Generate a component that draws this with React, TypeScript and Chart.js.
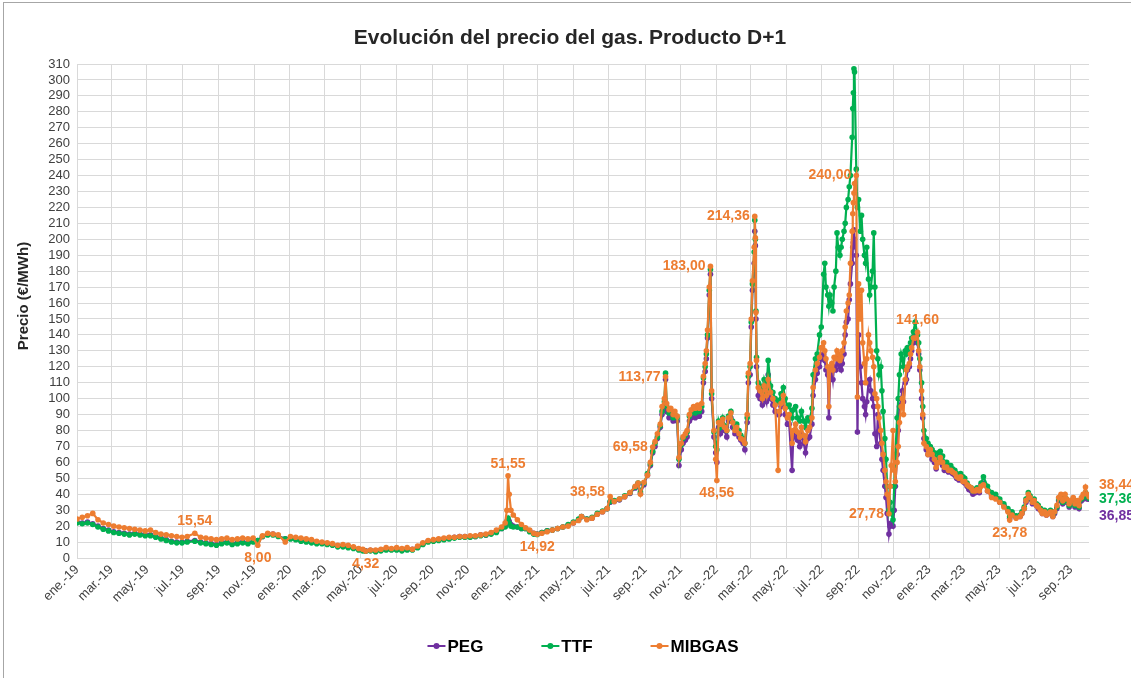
import { useEffect, useRef } from "react";
import { Chart, registerables } from "chart.js";

Chart.register(...registerables);

const FONT = "'Liberation Sans', Arial, sans-serif";

// ---- data -------------------------------------------------------------
const dates: string[] = [
  // 2019
  "2019-01-01","2019-01-10","2019-01-19","2019-01-28","2019-02-06","2019-02-15","2019-02-24","2019-03-05","2019-03-14","2019-03-23",
  "2019-04-01","2019-04-10","2019-04-19","2019-04-28","2019-05-07","2019-05-16","2019-05-25","2019-06-03","2019-06-12","2019-06-21",
  "2019-06-30","2019-07-09","2019-07-22","2019-08-01","2019-08-10","2019-08-19","2019-08-28","2019-09-06","2019-09-15","2019-09-24",
  "2019-10-03","2019-10-12","2019-10-21","2019-10-30","2019-11-07","2019-11-15","2019-11-24","2019-12-03","2019-12-12","2019-12-24",
  // 2020
  "2020-01-02","2020-01-11","2020-01-20","2020-01-29","2020-02-07","2020-02-16","2020-02-25","2020-03-05","2020-03-14","2020-03-23",
  "2020-04-01","2020-04-10","2020-04-19","2020-04-28","2020-05-05","2020-05-10","2020-05-18","2020-05-27","2020-06-05","2020-06-14",
  "2020-06-23","2020-07-02","2020-07-11","2020-07-20","2020-07-29","2020-08-07","2020-08-16","2020-08-25","2020-09-03","2020-09-12",
  "2020-09-21","2020-09-30","2020-10-09","2020-10-18","2020-10-27","2020-11-05","2020-11-14","2020-11-23","2020-12-02","2020-12-11",
  "2020-12-20","2020-12-29",
  // 2021
  "2021-01-04","2021-01-07","2021-01-09","2021-01-11","2021-01-14","2021-01-18","2021-01-25","2021-02-01","2021-02-08","2021-02-15",
  "2021-02-22","2021-02-28","2021-03-08","2021-03-17","2021-03-26","2021-04-04","2021-04-13","2021-04-22","2021-05-01","2021-05-10",
  "2021-05-15","2021-05-24","2021-06-02","2021-06-11","2021-06-20","2021-06-28","2021-07-03","2021-07-10","2021-07-19","2021-07-28",
  "2021-08-06","2021-08-15","2021-08-20","2021-08-24","2021-08-30","2021-09-05","2021-09-10","2021-09-14","2021-09-18","2021-09-22",
  "2021-09-27","2021-09-30","2021-10-04","2021-10-06","2021-10-08","2021-10-12","2021-10-15","2021-10-19","2021-10-22","2021-10-26",
  "2021-10-29","2021-11-02","2021-11-05","2021-11-09","2021-11-12","2021-11-16","2021-11-19","2021-11-23","2021-11-26","2021-11-30",
  "2021-12-03","2021-12-07","2021-12-10","2021-12-13","2021-12-15","2021-12-17","2021-12-20","2021-12-22","2021-12-24","2021-12-28",
  "2021-12-31",
  // 2022
  "2022-01-02","2022-01-05","2022-01-08","2022-01-12","2022-01-15","2022-01-19","2022-01-22","2022-01-26","2022-01-29","2022-02-02",
  "2022-02-05","2022-02-09","2022-02-12","2022-02-16","2022-02-19","2022-02-23","2022-02-25","2022-02-28","2022-03-02","2022-03-04",
  "2022-03-07","2022-03-08","2022-03-09","2022-03-10","2022-03-11","2022-03-14","2022-03-17","2022-03-21","2022-03-24","2022-03-28",
  "2022-03-31","2022-04-04","2022-04-08","2022-04-12","2022-04-17","2022-04-19","2022-04-22","2022-04-26","2022-04-29","2022-05-03",
  "2022-05-06","2022-05-11","2022-05-13","2022-05-17","2022-05-20","2022-05-24","2022-05-27","2022-05-31","2022-06-03","2022-06-07",
  "2022-06-10","2022-06-14","2022-06-16","2022-06-20","2022-06-23","2022-06-27","2022-06-30","2022-07-04","2022-07-06","2022-07-08",
  "2022-07-11","2022-07-13","2022-07-15","2022-07-18","2022-07-20","2022-07-22","2022-07-25","2022-07-27","2022-07-29","2022-08-01",
  "2022-08-03","2022-08-05","2022-08-08","2022-08-10","2022-08-12","2022-08-15","2022-08-17","2022-08-19","2022-08-22","2022-08-23",
  "2022-08-24","2022-08-25","2022-08-26","2022-08-29","2022-08-31","2022-09-02","2022-09-05","2022-09-07","2022-09-09","2022-09-12",
  "2022-09-14","2022-09-16","2022-09-19","2022-09-21","2022-09-23","2022-09-26","2022-09-28","2022-09-30","2022-10-03","2022-10-05",
  "2022-10-07","2022-10-10","2022-10-12","2022-10-14","2022-10-17","2022-10-19","2022-10-21","2022-10-24","2022-10-26","2022-10-28",
  "2022-10-31","2022-11-02","2022-11-04","2022-11-07","2022-11-09","2022-11-11","2022-11-14","2022-11-16","2022-11-18","2022-11-21",
  "2022-11-23","2022-11-25","2022-11-28","2022-11-30","2022-12-02","2022-12-05","2022-12-08","2022-12-12","2022-12-14","2022-12-16",
  "2022-12-19","2022-12-21","2022-12-23","2022-12-27","2022-12-30",
  // 2023
  "2023-01-03","2023-01-06","2023-01-10","2023-01-13","2023-01-17","2023-01-20","2023-01-24","2023-01-27","2023-01-31","2023-02-03",
  "2023-02-07","2023-02-10","2023-02-14","2023-02-17","2023-02-21","2023-02-24","2023-02-28","2023-03-03","2023-03-07","2023-03-10",
  "2023-03-14","2023-03-17","2023-03-21","2023-03-24","2023-03-28","2023-03-31","2023-04-04","2023-04-11","2023-04-18","2023-04-25",
  "2023-05-02","2023-05-09","2023-05-16","2023-05-19","2023-05-23","2023-05-30","2023-06-06","2023-06-09","2023-06-13","2023-06-16",
  "2023-06-20","2023-06-23","2023-06-27","2023-06-30","2023-07-04","2023-07-07","2023-07-11","2023-07-14","2023-07-18","2023-07-21",
  "2023-07-25","2023-07-28","2023-08-01","2023-08-04","2023-08-08","2023-08-11","2023-08-15","2023-08-18","2023-08-22","2023-08-25",
  "2023-08-29","2023-09-01","2023-09-05","2023-09-08","2023-09-12","2023-09-15","2023-09-19","2023-09-22","2023-09-26","2023-09-29",
  "2023-10-02",
];

const peg: number[] = [
  // 2019
  22.5, 22.0, 22.5, 21.5, 20.0, 18.5, 17.5, 16.5, 16.0, 15.5,
  15.0, 15.5, 15.0, 14.5, 14.5, 13.5, 12.5, 11.5, 10.5, 10.0,
  10.0, 10.5, 11.0, 10.0, 9.5, 9.0, 8.5, 9.5, 10.0, 9.0,
  9.5, 10.0, 9.5, 10.5, 11.0, 13.5, 15.0, 15.0, 14.0, 12.0,
  // 2020
  12.5, 12.0, 11.0, 10.5, 10.0, 9.5, 9.5, 9.0, 8.5, 7.5,
  7.5, 7.0, 6.5, 5.5, 5.0, 4.5, 4.8, 4.5, 5.0, 5.5,
  5.5, 5.5, 5.0, 5.5, 5.5, 7.0, 9.0, 10.5, 11.0, 11.5,
  12.0, 12.5, 13.0, 13.5, 13.5, 13.5, 13.5, 14.5, 14.5, 15.5,
  16.5, 18.5,
  // 2021
  20.0, 22.0, 24.0, 23.0, 21.0, 20.0, 19.5, 18.5, 18.5, 17.0,
  15.5, 15.0, 16.0, 17.0, 17.5, 18.5, 19.5, 20.5, 22.0, 24.0,
  26.0, 24.5, 25.0, 27.5, 29.0, 31.0, 35.0, 35.5, 36.5, 38.5,
  40.5, 44.0, 46.5, 40.5, 46.0, 52.0, 58.0, 66.0, 70.0, 75.0,
  82.0, 90.0, 95.0, 112.0, 92.0, 88.0, 90.0, 86.0, 88.0, 86.0,
  58.0, 68.0, 72.0, 74.0, 76.0, 86.0, 88.0, 90.0, 88.0, 91.0,
  89.0, 92.0, 110.0, 117.0, 125.0, 138.0, 165.0, 178.0, 100.0, 76.0,
  66.0,
  // 2022
  60.0, 82.0, 78.0, 84.0, 80.0, 76.0, 86.0, 88.0, 82.0, 78.0,
  80.0, 76.0, 74.0, 72.0, 68.0, 85.0, 110.0, 115.0, 145.0, 168.0,
  185.0, 205.0, 196.0, 150.0, 120.0, 102.0, 100.0, 96.0, 104.0, 98.0,
  115.0, 100.0, 96.0, 92.0, 90.0, 90.0, 95.0, 99.0, 90.0, 84.0,
  84.0, 55.0, 76.0, 80.0, 74.0, 70.0, 78.0, 72.0, 66.0, 75.0,
  76.0, 84.0, 102.0, 112.0, 116.0, 120.0, 125.0, 128.0, 124.0, 118.0,
  115.0, 88.0, 112.0, 118.0, 112.0, 120.0, 118.0, 125.0, 122.0, 120.0,
  118.0, 122.0, 128.0, 140.0, 148.0, 150.0, 162.0, 172.0, 185.0, 195.0,
  198.0, 206.0, 200.0, 190.0, 79.0, 140.0, 120.0, 110.0, 100.0, 95.0,
  90.0, 98.0, 110.0, 112.0, 105.0, 100.0, 95.0, 78.0, 70.0, 90.0,
  80.0, 72.0, 62.0, 55.0, 45.0, 38.0, 28.0, 15.0, 20.0, 22.0,
  20.0, 30.0, 45.0, 65.0, 80.0, 95.0, 100.0, 105.0, 98.0, 110.0,
  112.0, 118.0, 120.0, 125.0, 130.0, 135.0, 140.0, 135.0, 128.0, 118.0,
  100.0, 88.0, 75.0, 68.0, 65.0,
  // 2023
  65.0, 62.0, 60.0, 56.0, 60.0, 62.0, 58.0, 55.0, 56.0, 54.0,
  55.0, 53.0, 52.0, 50.0, 49.0, 50.0, 48.0, 47.0, 45.0, 43.0,
  42.0, 40.0, 41.0, 42.0, 41.0, 46.0, 47.0, 42.0, 39.0, 38.0,
  35.0, 33.0, 30.0, 25.0, 28.0, 25.5, 26.0, 28.0, 31.0, 35.0,
  38.0, 37.0, 34.0, 35.0, 33.0, 31.0, 30.0, 28.0, 29.0, 27.0,
  28.0, 29.0, 26.0, 28.0, 31.0, 36.0, 38.0, 34.0, 37.0, 35.0,
  32.0, 34.0, 36.0, 32.0, 34.0, 31.0, 36.0, 37.0, 40.0, 37.0,
  36.85,
];

const ttf: number[] = [
  // 2019
  22.0, 21.5, 22.0, 21.0, 19.5, 18.0, 17.0, 16.0, 15.5, 15.0,
  14.5, 15.0, 14.5, 14.0, 14.0, 13.0, 12.0, 11.0, 10.0, 9.5,
  9.5, 10.0, 10.5, 9.5, 9.0, 8.5, 8.0, 9.0, 9.5, 8.5,
  9.0, 9.5, 9.0, 10.0, 11.0, 13.5, 14.5, 14.5, 13.5, 12.0,
  // 2020
  12.0, 11.5, 10.5, 10.0, 9.5, 9.0, 9.0, 8.5, 8.0, 7.0,
  7.0, 6.5, 6.0, 5.0, 4.5, 4.2, 4.5, 4.0, 4.5, 5.0,
  5.0, 5.0, 4.5, 5.0, 5.0, 6.5, 8.5, 10.0, 10.5, 11.0,
  11.5, 12.0, 12.5, 13.0, 13.0, 13.0, 13.5, 14.0, 14.5, 15.0,
  16.0, 18.5,
  // 2021
  19.5, 23.0, 25.0, 22.0, 20.0, 19.5, 19.5, 18.5, 18.5, 16.5,
  15.0, 14.8, 16.0, 17.0, 17.5, 18.5, 19.5, 21.0, 22.5, 24.5,
  26.0, 24.5, 25.5, 28.0, 29.5, 31.0, 35.5, 36.0, 37.0, 39.0,
  41.0, 44.5, 47.0, 41.5, 47.0, 53.0, 59.0, 67.0, 72.0, 76.0,
  83.0, 92.0, 98.0, 116.0, 95.0, 91.0, 92.0, 88.0, 90.0, 88.0,
  62.0, 71.0, 75.0, 77.0, 79.0, 89.0, 91.0, 93.0, 91.0, 94.0,
  92.0, 95.0, 113.0, 120.0, 128.0, 140.0, 168.0, 181.0, 103.0, 79.0,
  70.0,
  // 2022
  68.0, 86.0, 82.0, 88.0, 83.0, 80.0, 89.0, 92.0, 86.0, 82.0,
  84.0, 80.0, 77.0, 75.0, 72.0, 88.0, 114.0, 120.0, 148.0, 172.0,
  192.0, 212.0, 200.0, 155.0, 126.0, 110.0, 108.0, 104.0, 112.0, 106.0,
  124.0, 108.0, 104.0, 100.0, 98.0, 99.0, 103.0, 107.0, 100.0, 95.0,
  96.0, 88.0, 93.0, 95.0, 88.0, 86.0, 92.0, 86.0, 82.0, 88.0,
  86.0, 94.0, 115.0, 125.0, 128.0, 140.0, 145.0, 178.0, 185.0, 170.0,
  165.0, 158.0, 165.0, 160.0, 155.0, 170.0, 180.0, 204.0, 195.0, 190.0,
  195.0, 200.0, 205.0, 210.0, 220.0, 225.0, 233.0, 240.0, 264.0, 282.0,
  292.0, 307.0, 305.0, 244.0, 220.0, 225.0, 205.0, 215.0, 200.0, 190.0,
  185.0, 195.0, 175.0, 165.0, 170.0, 180.0, 204.0, 170.0, 130.0, 125.0,
  115.0, 120.0, 105.0, 92.0, 75.0, 62.0, 45.0, 30.0, 35.0, 28.0,
  24.0, 45.0, 65.0, 88.0, 100.0, 115.0, 128.0, 125.0, 120.0, 130.0,
  128.0, 132.0, 130.0, 135.0, 138.0, 142.0, 148.0, 140.0, 135.0, 125.0,
  110.0, 95.0, 80.0, 75.0, 72.0,
  // 2023
  70.0, 68.0, 66.0, 62.0, 66.0, 67.0, 64.0, 60.0, 60.0, 58.0,
  58.0, 56.0, 55.0, 53.0, 52.0, 53.0, 51.0, 50.0, 47.0, 45.0,
  44.0, 42.0, 43.0, 44.0, 43.0, 47.0, 51.0, 45.0, 41.0, 40.0,
  37.0, 34.0, 31.0, 26.0, 29.0, 26.5, 27.0, 29.0, 32.0, 37.0,
  41.0, 39.0, 36.0, 37.0, 34.0, 33.0, 31.0, 29.0, 30.0, 28.0,
  29.0, 30.0, 27.0, 29.0, 32.0, 37.0, 39.0, 35.0, 38.0, 36.0,
  33.0, 35.0, 37.0, 33.0, 35.0, 32.0, 37.0, 38.0, 41.0, 39.0,
  37.36,
];

const mibgas: number[] = [
  // 2019
  24.5, 25.5, 26.5, 28.0, 24.0, 22.0, 21.0, 20.0, 19.5, 19.0,
  18.5, 18.0, 17.5, 17.0, 17.5, 16.0, 15.0, 14.5, 14.0, 13.5,
  13.0, 13.5, 15.54, 13.0, 12.5, 12.0, 11.5, 12.0, 12.5, 11.5,
  12.0, 12.5, 12.0, 12.5, 8.0, 14.0, 15.5, 15.0, 14.5, 10.0,
  // 2020
  13.5, 13.0, 12.5, 12.0, 11.5, 10.5, 10.0, 9.5, 9.0, 8.0,
  8.5, 8.0, 7.0, 6.0, 5.5, 4.32, 5.0, 5.0, 5.5, 6.5,
  6.0, 6.5, 6.0, 6.5, 5.5, 7.5, 9.5, 11.0, 11.5, 12.0,
  12.5, 13.0, 13.0, 13.5, 13.5, 14.0, 14.0, 14.5, 15.0, 16.0,
  17.5, 19.5,
  // 2021
  22.0, 30.0, 51.55, 40.0, 30.0, 27.0, 24.0, 21.0, 19.0, 17.5,
  15.5, 14.92, 15.5, 16.5, 17.5, 18.5, 19.5, 20.0, 22.0, 23.5,
  26.0, 24.0, 25.0, 27.5, 29.0, 31.0, 38.58, 35.5, 37.0, 38.5,
  41.0, 45.0, 47.0, 40.0, 47.5, 52.0, 60.0, 69.58, 73.0, 78.0,
  84.0, 95.0, 100.0, 113.77, 97.0, 93.0, 94.0, 90.0, 92.0, 89.0,
  63.0, 72.0, 76.0, 78.0, 80.0, 90.0, 93.0, 95.0, 94.0, 96.0,
  94.0, 97.0, 114.0, 122.0, 130.0, 143.0, 170.0, 183.0, 105.0, 80.0,
  62.0,
  // 2022
  48.56, 85.0, 84.0, 87.0, 82.0, 80.0, 88.0, 91.0, 85.0, 80.0,
  82.0, 78.0, 75.0, 74.0, 72.0, 90.0, 116.0, 122.0, 150.0, 174.0,
  195.0, 214.36, 201.0, 154.0, 124.0, 107.0, 105.0, 100.0, 108.0, 102.0,
  112.0, 104.0, 100.0, 96.0, 55.0, 92.0, 97.0, 102.0, 94.0, 88.0,
  90.0, 72.0, 80.0, 84.0, 79.0, 76.0, 82.0, 77.0, 73.0, 80.0,
  82.0, 88.0, 107.0, 118.0, 122.0, 126.0, 132.0, 135.0, 130.0, 125.0,
  120.0, 95.0, 118.0, 122.0, 118.0, 126.0, 125.0, 130.0, 128.0, 124.0,
  126.0, 130.0, 135.0, 145.0, 155.0, 160.0, 165.0, 185.0, 205.0, 216.0,
  223.0, 229.0, 235.0, 240.0, 101.0, 172.0, 150.0, 168.0, 135.0, 122.0,
  110.0, 125.0, 140.0, 135.0, 130.0, 126.0, 120.0, 103.0, 100.0, 95.0,
  88.0, 80.0, 72.0, 65.0, 55.0, 48.0, 40.0, 27.78, 45.0, 58.0,
  80.0, 55.0, 48.0, 60.0, 70.0, 85.0, 95.0, 100.0, 90.0, 112.0,
  118.0, 120.0, 122.0, 128.0, 132.0, 138.0, 138.0, 141.6, 130.0, 120.0,
  105.0, 90.0, 72.0, 70.0, 65.0,
  // 2023
  68.0, 65.0, 62.0, 57.0, 60.0, 63.0, 60.0, 57.0, 57.0, 55.0,
  55.0, 54.0, 53.0, 51.0, 50.0, 51.0, 48.0, 48.0, 46.0, 45.0,
  44.0, 42.0, 42.0, 43.0, 42.0, 45.0, 46.0, 42.0, 38.0, 37.0,
  35.0, 32.0, 29.0, 23.78, 27.0, 25.0, 26.0, 28.0, 31.0, 36.0,
  40.0, 38.0, 35.0, 36.0, 33.0, 32.0, 30.0, 28.0, 29.0, 27.0,
  28.0, 29.0, 26.0, 29.0, 33.0, 38.0, 40.0, 36.0, 40.0, 37.0,
  34.0, 36.0, 38.0, 34.0, 36.0, 33.0, 38.0, 40.0, 44.5, 40.0,
  38.44,
];

const seriesNames = ["PEG", "TTF", "MIBGAS"];
const seriesColors = ["#7030A0", "#00B050", "#ED7D31"];
const chartTitle = "Evolución del precio del gas. Producto D+1";
const yAxisTitle = "Precio (€/MWh)";

const xTickDates = [
  "2019-01-01","2019-03-01","2019-05-01","2019-07-01","2019-09-01","2019-11-01",
  "2020-01-01","2020-03-01","2020-05-01","2020-07-01","2020-09-01","2020-11-01",
  "2021-01-01","2021-03-01","2021-05-01","2021-07-01","2021-09-01","2021-11-01",
  "2022-01-01","2022-03-01","2022-05-01","2022-07-01","2022-09-01","2022-11-01",
  "2023-01-01","2023-03-01","2023-05-01","2023-07-01","2023-09-01",
];
const xTickLabels = [
  "ene.-19","mar.-19","may.-19","jul.-19","sep.-19","nov.-19",
  "ene.-20","mar.-20","may.-20","jul.-20","sep.-20","nov.-20",
  "ene.-21","mar.-21","may.-21","jul.-21","sep.-21","nov.-21",
  "ene.-22","mar.-22","may.-22","jul.-22","sep.-22","nov.-22",
  "ene.-23","mar.-23","may.-23","jul.-23","sep.-23",
];

// data labels: series index, date, placement
const pointLabels = [
  { s: 2, date: "2019-07-22", place: "above", dy: 0 },
  { s: 2, date: "2019-11-07", place: "below", dy: 0 },
  { s: 2, date: "2020-05-10", place: "below", dy: 0 },
  { s: 2, date: "2021-01-09", place: "above", dy: 0 },
  { s: 2, date: "2021-02-28", place: "below", dy: 0 },
  { s: 2, date: "2021-07-03", place: "left", dy: -4 },
  { s: 2, date: "2021-09-14", place: "left", dy: 0 },
  { s: 2, date: "2021-10-06", place: "left", dy: 0 },
  { s: 2, date: "2021-12-22", place: "left", dy: 0 },
  { s: 2, date: "2022-01-02", place: "below", dy: 0 },
  { s: 2, date: "2022-03-08", place: "left", dy: 0 },
  { s: 2, date: "2022-08-29", place: "left", dy: 0 },
  { s: 2, date: "2022-10-24", place: "left", dy: 0 },
  { s: 2, date: "2022-12-12", place: "above", dy: 0 },
  { s: 2, date: "2023-05-19", place: "below", dy: 0 },
  { s: 2, date: "2023-10-02", place: "right", dy: -12 },
  { s: 1, date: "2023-10-02", place: "right", dy: 1 },
  { s: 0, date: "2023-10-02", place: "right", dy: 17 },
];

// ---- helpers ----------------------------------------------------------
const BASE = Date.UTC(2019, 0, 1);
const dayIndex = (s: string) => {
  const [Y, M, D] = s.split("-").map(Number);
  return (Date.UTC(Y, M - 1, D) - BASE) / 86400000;
};
const seriesValues = [peg, ttf, mibgas];
const fmt = (v: number) => v.toFixed(2).replace(".", ",");

const decorPlugin = {
  id: "decor",
  beforeDraw(chart: any) {
    const ctx = chart.ctx;
    ctx.save();
    ctx.strokeStyle = "#A6A6A6";
    ctx.lineWidth = 1;
    ctx.strokeRect(3.5, 2.5, 1400, 1000);
    // title
    ctx.font = `bold 21px ${FONT}`;
    ctx.fillStyle = "#262626";
    ctx.textAlign = "center";
    ctx.textBaseline = "middle";
    ctx.fillText(chartTitle, 570, 38);
    // y axis title
    ctx.translate(24, 296);
    ctx.rotate(-Math.PI / 2);
    ctx.font = `bold 15px ${FONT}`;
    ctx.fillText(yAxisTitle, 0, 0);
    ctx.restore();
  },
  afterDatasetsDraw(chart: any) {
    const { ctx, scales, chartArea } = chart;
    const xs = scales.x;
    const ys = scales.y;
    ctx.save();
    // point labels
    ctx.font = `bold 14px ${FONT}`;
    for (const l of pointLabels) {
      const i = dates.indexOf(l.date);
      const v = seriesValues[l.s][i];
      const px = xs.getPixelForValue(dayIndex(l.date));
      const py = ys.getPixelForValue(v);
      ctx.fillStyle = seriesColors[l.s];
      const t = fmt(v);
      if (l.place === "above") {
        ctx.textAlign = "center";
        ctx.textBaseline = "bottom";
        ctx.fillText(t, px, py - 5 + l.dy);
      } else if (l.place === "below") {
        ctx.textAlign = "center";
        ctx.textBaseline = "top";
        ctx.fillText(t, px, py + 6 + l.dy);
      } else if (l.place === "left") {
        ctx.textAlign = "right";
        ctx.textBaseline = "middle";
        ctx.fillText(t, px - 5, py + l.dy);
      } else {
        ctx.textAlign = "left";
        ctx.textBaseline = "middle";
        ctx.fillText(t, px + 10, py + l.dy);
      }
    }
    // legend
    ctx.font = `bold 17px ${FONT}`;
    const widths = seriesNames.map((n) => 20 + ctx.measureText(n).width);
    const gap = 58;
    const total = widths.reduce((a, b) => a + b, 0) + gap * (widths.length - 1);
    let lx = (chartArea.left + chartArea.right) / 2 - total / 2;
    const ly = 646;
    seriesNames.forEach((n, k) => {
      ctx.strokeStyle = seriesColors[k];
      ctx.fillStyle = seriesColors[k];
      ctx.lineWidth = 2;
      ctx.beginPath();
      ctx.moveTo(lx, ly);
      ctx.lineTo(lx + 18, ly);
      ctx.stroke();
      ctx.beginPath();
      ctx.arc(lx + 9, ly, 3, 0, Math.PI * 2);
      ctx.fill();
      ctx.fillStyle = "#000000";
      ctx.textAlign = "left";
      ctx.textBaseline = "middle";
      ctx.fillText(n, lx + 20, ly + 1);
      lx += widths[k] + gap;
    });
    ctx.restore();
  },
};

export default function App() {
  const ref = useRef<HTMLCanvasElement | null>(null);

  useEffect(() => {
    document.body.style.margin = "0";
    const canvas = ref.current;
    if (!canvas) return;
    const lastDay = dayIndex(dates[dates.length - 1]);
    const xTickDays = xTickDates.map(dayIndex);

    const datasets = seriesValues.map((vals, k) => ({
      label: seriesNames[k],
      data: dates.map((d, i) => ({ x: dayIndex(d), y: vals[i] })),
      borderColor: seriesColors[k],
      backgroundColor: seriesColors[k],
      borderWidth: 2.2,
      pointRadius: 2.8,
      pointBorderWidth: 0,
      pointHoverRadius: 0,
      tension: 0,
      order: 3 - k,
    }));

    const chart = new Chart(canvas, {
      type: "line",
      data: { datasets },
      plugins: [decorPlugin],
      options: {
        animation: false,
        responsive: false,
        devicePixelRatio: 1,
        events: [],
        layout: { padding: { top: 64, right: 42, bottom: 0, left: 0 } },
        plugins: {
          legend: { display: false },
          tooltip: { enabled: false },
          title: { display: false },
        },
        scales: {
          x: {
            type: "linear",
            min: 0,
            max: lastDay,
            afterBuildTicks: (scale: any) => {
              scale.ticks = xTickDays.map((v) => ({ value: v }));
            },
            afterFit: (scale: any) => {
              scale.height = 120;
            },
            ticks: {
              autoSkip: false,
              minRotation: 45,
              maxRotation: 45,
              padding: 4,
              color: "#404040",
              font: { family: FONT, size: 13 },
              callback: (_v: any, i: number) => xTickLabels[i],
            },
            grid: { color: "#D9D9D9", lineWidth: 1, drawTicks: false },
            border: { display: true, color: "#D9D9D9" },
          },
          y: {
            min: 0,
            max: 310,
            afterFit: (scale: any) => {
              scale.width = 77;
            },
            ticks: {
              stepSize: 10,
              autoSkip: false,
              padding: 7,
              color: "#404040",
              font: { family: FONT, size: 13 },
            },
            grid: { color: "#D9D9D9", lineWidth: 1, drawTicks: false },
            border: { display: false },
          },
        },
      },
    } as any);

    return () => chart.destroy();
  }, []);

  return (
    <div style={{ position: "relative", width: 1131, height: 678 }}>
      <canvas ref={ref} width={1131} height={678} style={{ display: "block" }} />
    </div>
  );
}
